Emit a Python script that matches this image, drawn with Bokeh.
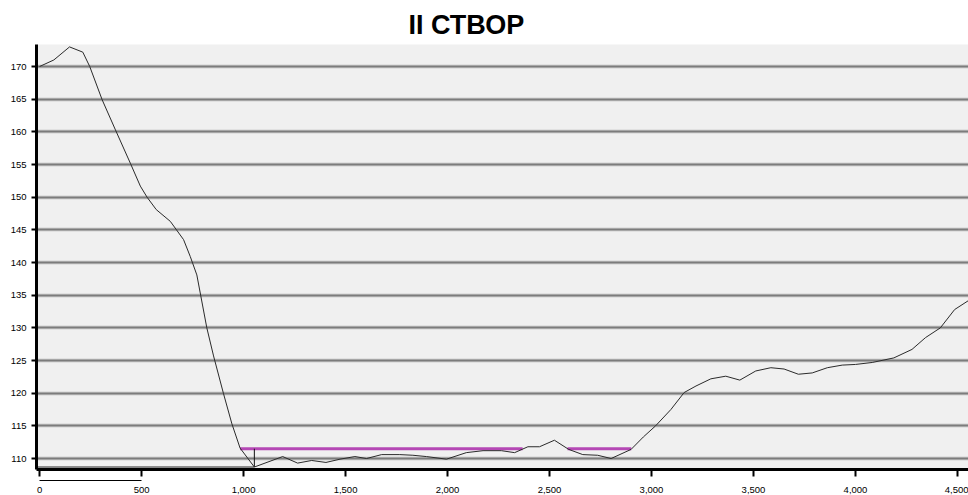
from bokeh.plotting import figure
from bokeh.models import (Range1d, NumeralTickFormatter, FixedTicker, Grid, Title,
                          LinearAxis, CustomLabelingPolicy)
from bokeh.embed import file_html
from bokeh.resources import INLINE

# ---- data ----
profile_x = [0, 70, 147, 212, 246, 307, 372, 445, 494, 527, 572, 641, 706, 739, 771,
             820, 853, 902, 943, 983, 1053, 1192, 1265, 1334, 1404, 1473, 1546, 1603,
             1677, 1766, 1830, 1897, 1995, 2092, 2174, 2264, 2329, 2394, 2451, 2524,
             2594, 2663, 2736, 2802, 2900, 2960, 3020, 3095, 3160, 3218, 3291, 3364,
             3433, 3511, 3585, 3650, 3720, 3788, 3862, 3935, 4000, 4082, 4188, 4277,
             4343, 4416, 4486, 4560]
profile_y = [170.0, 171.0, 173.0, 172.2, 170.0, 164.9, 160.3, 155.2, 151.7, 150.0, 148.1,
             146.3, 143.5, 140.9, 138.1, 130.0, 125.7, 119.9, 115.3, 111.6, 108.7, 110.3,
             109.3, 109.7, 109.4, 109.9, 110.3, 110.0, 110.6, 110.6, 110.5, 110.3, 109.9,
             110.9, 111.2, 111.2, 110.9, 111.8, 111.8, 112.8, 111.4, 110.6, 110.5, 110.0,
             111.4, 113.3, 115.0, 117.5, 120.1, 121.1, 122.2, 122.6, 122.0, 123.4, 123.9,
             123.7, 122.9, 123.1, 123.9, 124.3, 124.4, 124.7, 125.4, 126.7, 128.5, 130.0,
             132.8, 134.3]

water_level = 111.5
water_start = [983, 2588]
water_end = [2368, 2901]

thalweg_x = 1053
thalweg_y = 108.7

y_ticks = [110, 115, 120, 125, 130, 135, 140, 145, 150, 155, 160, 165, 170]
x_ticks = [0, 500, 1000, 1500, 2000, 2500, 3000, 3500, 4000, 4500]
scale_bar = (0, 500)

title_text = "II СТВОР"

x_start, x_end = -15, 4554
y_start, y_end = 108.32, 173.37

FONT = "Liberation Sans"

p = figure(width=968, height=495, output_backend="svg", toolbar_location=None,
           x_range=Range1d(x_start, x_end), y_range=Range1d(y_start, y_end),
           min_border_left=36, min_border_right=0, min_border_top=44,
           min_border_bottom=26)

p.title.visible = False
t = Title(text=title_text, text_font=FONT, text_font_size="27px",
          text_font_style="bold", text_color="black", align="left",
          offset=372, standoff=9)
p.add_layout(t, "above")

p.background_fill_color = "#f0f0f0"
p.border_fill_color = "white"
p.outline_line_color = None

# grids
p.xgrid.visible = False
p.ygrid.ticker = FixedTicker(ticks=y_ticks)
p.ygrid.grid_line_color = "#b4b4b4"
p.ygrid.grid_line_width = 3.5
g2 = Grid(dimension=1, ticker=FixedTicker(ticks=y_ticks),
          grid_line_color="#7c7c7c", grid_line_width=1.6)
p.add_layout(g2)

# y axis
ya = p.yaxis[0]
ya.ticker = FixedTicker(ticks=y_ticks)
ya.axis_line_color = "black"
ya.axis_line_width = 3
ya.major_tick_line_color = "black"
ya.major_tick_line_width = 2
ya.major_tick_in = 0
ya.major_tick_out = 5
ya.minor_tick_line_color = None
ya.major_label_text_font = FONT
ya.major_label_text_font_size = "9.5px"
ya.major_label_text_color = "black"
ya.major_label_standoff = 5

hide_all = CustomLabelingPolicy(code="""
    for (let i = 0; i < indices.size; i++) { indices.unset(i) }
    return indices
""")

# x axis A: thick line + ticks, labels suppressed
xa = p.xaxis[0]
xa.ticker = FixedTicker(ticks=x_ticks)
xa.axis_line_color = "black"
xa.axis_line_width = 3
xa.major_tick_line_color = "black"
xa.major_tick_line_width = 2
xa.major_tick_in = 0
xa.major_tick_out = 7
xa.minor_tick_line_color = None
xa.major_label_policy = hide_all
xa.major_label_text_font_size = "1px"
xa.major_label_standoff = 0

# x axis B: bottom edge of the scale bar
xb = LinearAxis(bounds=scale_bar, ticker=FixedTicker(ticks=[]),
                axis_line_color="black", axis_line_width=1,
                major_tick_line_color=None, minor_tick_line_color=None,
                major_tick_in=0, major_tick_out=0, minor_tick_in=0, minor_tick_out=0,
                major_label_standoff=0)
p.add_layout(xb, "below")

# x axis C: labels
xc = LinearAxis(ticker=FixedTicker(ticks=x_ticks),
                formatter=NumeralTickFormatter(format="0,0"),
                axis_line_color=None, major_tick_line_color=None,
                minor_tick_line_color=None, major_tick_in=0, major_tick_out=0,
                minor_tick_in=0, minor_tick_out=0,
                major_label_text_font=FONT, major_label_text_font_size="9.5px",
                major_label_text_color="black", major_label_standoff=6)
p.add_layout(xc, "below")

# water level
p.segment(x0=water_start, y0=[water_level] * len(water_start),
          x1=water_end, y1=[water_level] * len(water_end),
          line_color="#b548b5", line_width=3)

# thalweg markers
p.line([x_start, thalweg_x], [thalweg_y, thalweg_y], line_color="#222222", line_width=1)
p.segment(x0=[thalweg_x], y0=[thalweg_y], x1=[thalweg_x], y1=[water_level],
          line_color="#111111", line_width=1)

# profile
p.line(profile_x, profile_y, line_color="#2a2a2a", line_width=1)

open("out.html", "w").write(file_html(p, INLINE))
